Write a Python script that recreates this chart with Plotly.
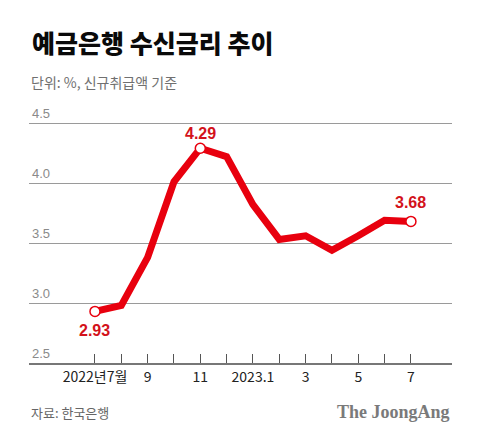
import plotly.graph_objects as go

months = list(range(13))
tick_labels = ["2022년7월", "", "9", "", "11", "", "2023.1", "", "3", "", "5", "", "7"]
rates = [2.93, 2.98, 3.38, 4.01, 4.29, 4.22, 3.82, 3.53, 3.56, 3.44, 3.56, 3.69, 3.68]
y_ticks = [2.5, 3.0, 3.5, 4.0, 4.5]
y_tick_labels = ["2.5", "3.0", "3.5", "4.0", "4.5"]
highlight_idx = [0, 4, 12]
highlight_text = ["2.93", "4.29", "3.68"]
highlight_shift = [-19, 15, 19]

RED = "#e8000e"
LABEL_RED = "#d3121b"
KR = "Noto Sans CJK KR"

W, H = 480, 438
L, R, T, B = 29, 28, 99, 75
PH = H - T - B
PW = W - L - R

def py(ypx):
    return (H - B - ypx) / PH

def px(xpx):
    return (xpx - L) / PW

fig = go.Figure()
fig.add_trace(go.Scatter(
    x=months, y=rates, mode="lines",
    line=dict(color=RED, width=7),
    hoverinfo="skip", showlegend=False,
))
fig.add_trace(go.Scatter(
    x=[months[i] for i in highlight_idx], y=[rates[i] for i in highlight_idx],
    mode="markers",
    marker=dict(size=10, color="white", line=dict(color=RED, width=1.5)),
    hoverinfo="skip", showlegend=False,
))

for i, t, s in zip(highlight_idx, highlight_text, highlight_shift):
    fig.add_annotation(
        x=months[i], y=rates[i], text=t, showarrow=False,
        yshift=s, font=dict(family="Liberation Sans, Arial", size=16, color=LABEL_RED, weight="bold"),
        xanchor="center", yanchor="middle",
    )

fig.add_annotation(
    xref="paper", yref="paper", x=px(30), y=py(42), text="예금은행 수신금리 추이",
    showarrow=False, xanchor="left", yanchor="middle",
    font=dict(family=KR, size=25, color="#0a0a0a", weight=900),
)
fig.add_annotation(
    xref="paper", yref="paper", x=px(29), y=py(82), text="단위: %, 신규취급액 기준",
    showarrow=False, xanchor="left", yanchor="middle",
    font=dict(family=KR, size=14, color="#707070"),
)
fig.add_annotation(
    xref="paper", yref="paper", x=px(29), y=py(412), text="자료: 한국은행",
    showarrow=False, xanchor="left", yanchor="middle",
    font=dict(family=KR, size=13, color="#666666"),
)
fig.add_annotation(
    xref="paper", yref="paper", x=px(452), y=py(412), text="The JoongAng",
    showarrow=False, xanchor="right", yanchor="middle",
    font=dict(family="Liberation Serif, DejaVu Serif", size=18, color="#7a7a7a", weight="bold"),
)

fig.update_layout(
    width=W, height=H,
    margin=dict(l=L, r=R, t=T, b=B, pad=0),
    paper_bgcolor="white", plot_bgcolor="white",
    xaxis=dict(
        range=[-2.506, 13.56], tickmode="array", tickvals=months, ticktext=tick_labels,
        ticks="inside", ticklen=9, tickwidth=1, tickcolor="#555555",
        showgrid=False, zeroline=False,
        showline=True, linecolor="#777777", linewidth=2,
        tickfont=dict(family=KR, size=14, color="#222222"),
        fixedrange=True,
    ),
    yaxis=dict(
        range=[2.5, 4.7], tickmode="array", tickvals=y_ticks, ticktext=y_tick_labels,
        ticklabelposition="inside top", ticks="",
        showgrid=True, gridcolor="#9a9a9a", gridwidth=1,
        zeroline=False, showline=False,
        tickfont=dict(family="Liberation Sans, Arial", size=13, color="#8a8a8a"),
        fixedrange=True,
    ),
)

fig.write_html("out.html")
